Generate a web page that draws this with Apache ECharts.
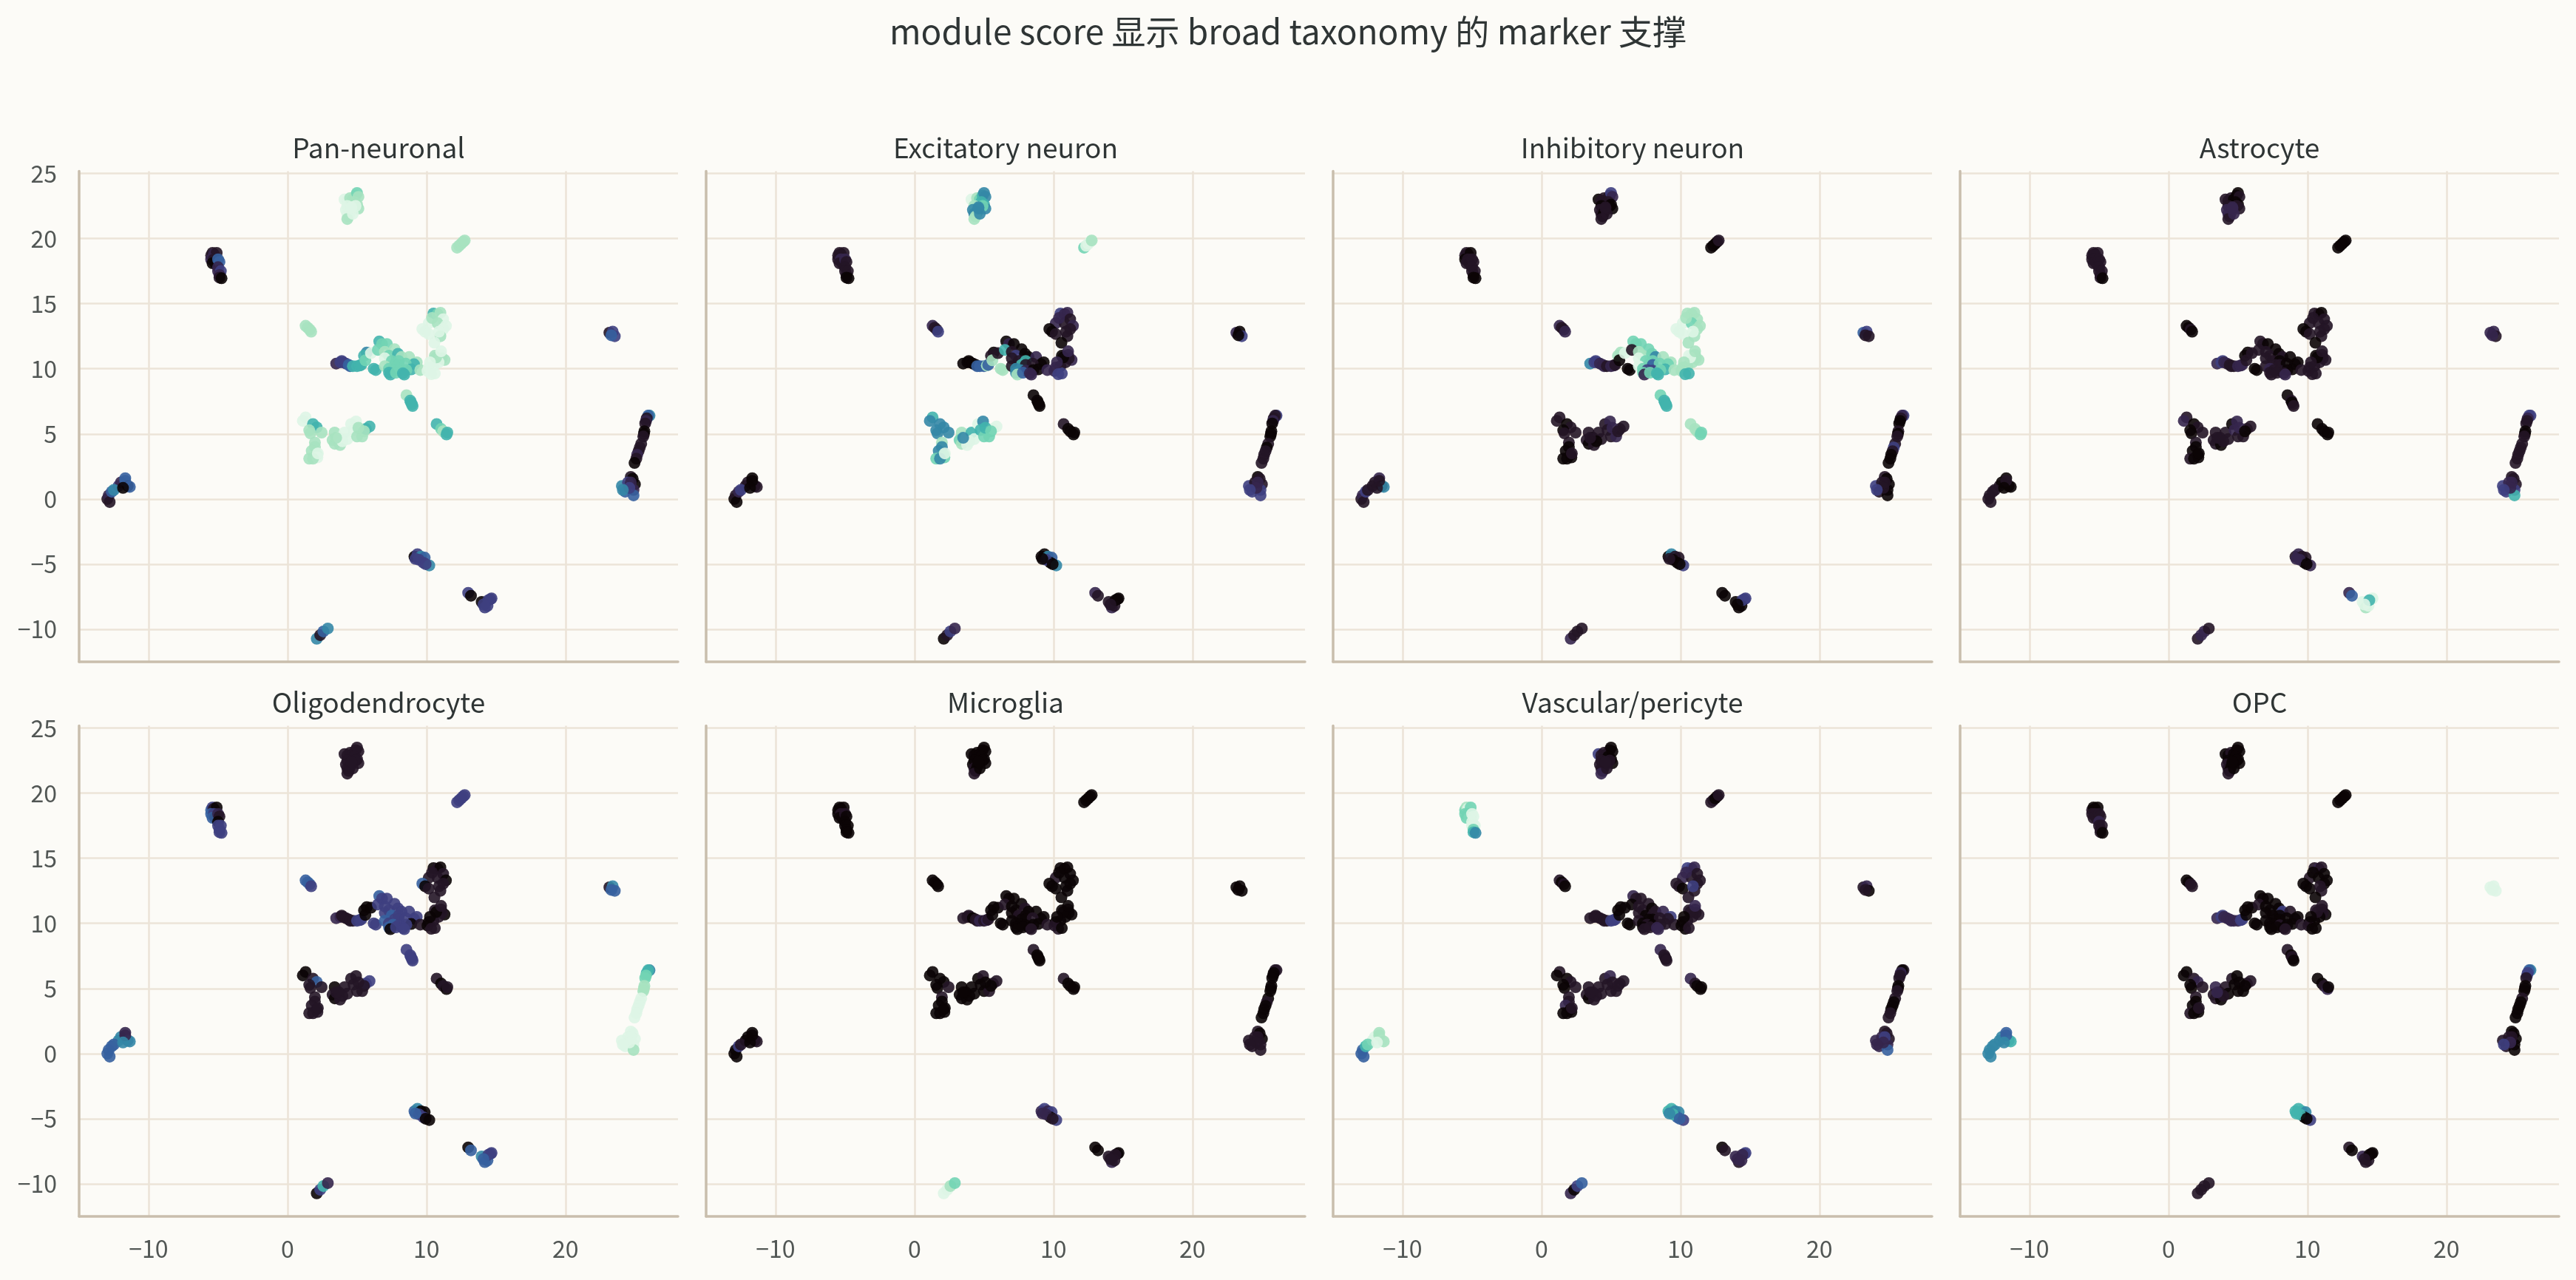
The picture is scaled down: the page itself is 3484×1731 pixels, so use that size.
<!DOCTYPE html>
<html>
<head>
<meta charset="utf-8">
<title>module score</title>
<script src="https://cdn.jsdelivr.net/npm/echarts@6/dist/echarts.min.js"></script>
<style>
html, body { margin: 0; padding: 0; background: #fcfbf7; }
#content { width: 3484px; height: 1731px; }
</style>
</head>
<body>
<div id="content"></div>
<script>
var chartTitle = "module score 显示 broad taxonomy 的 marker 支撑";
var panelNames = ["Pan-neuronal", "Excitatory neuron", "Inhibitory neuron", "Astrocyte",
    "Oligodendrocyte", "Microglia", "Vascular/pericyte", "OPC"];
var xTicks = [-10, 0, 10, 20];
var yTicks = [-10, -5, 0, 5, 10, 15, 20, 25];

// UMAP 坐标，每行一个细胞团，顺序和下面的 score 对应
var umapX = [
    4.1, 4.3, 4.5, 4.7, 4.9, 5.0, 5.1, 4.8, 5.0, 5.1, 4.9, 4.3, 4.2, 4.3, 4.5, 4.4, 4.3, 4.6, 4.7, 4.6,
    12.2, 12.35, 12.5, 12.65, 12.75,
    -5.5, -5.4, -5.3, -5.1, -5.5, -5.3, -5.2, -5.4, -5.0, -4.9, -5.0, -5.0, -4.8, -4.9, -4.9, -4.75,
    1.3, 1.45, 1.6, 1.7,
    3.5, 3.8, 3.9, 4.0, 4.2, 4.4,
    4.5, 4.7, 5.0, 5.2, 5.3,
    5.7, 5.5, 5.6, 6.0,
    6.2, 6.35,
    6.6, 6.8, 7.15, 6.5, 7.7, 7.0, 7.3, 7.95, 7.0, 8.2, 8.75, 7.5, 8.0, 9.3, 9.1, 7.7, 7.0, 8.0, 8.5, 8.9, 9.55, 7.3, 7.6, 8.0, 8.55, 7.3, 7.4, 7.8, 8.3, 8.4,
    10.5, 10.8, 11.0, 11.2, 10.16, 10.8, 11.4, 11.2, 9.7, 9.9, 10.16, 11.0, 10.57, 10.9, 10.4,
    10.6, 11.05, 11.3, 11.1, 10.16, 10.5, 10.07, 10.34, 10.6, 10.87, 10.7, 11.05, 10.25,
    8.56, 8.83, 8.95, 8.88, 9.0,
    10.73, 11.05, 11.2, 11.44, 11.5,
    1.3, 1.1, 1.83, 2.1, 1.56, 1.65, 2.45,
    1.97, 1.97, 1.74, 2.1, 1.56, 2.15, 1.83, 2.18,
    3.39, 3.24, 3.4, 3.78, 3.7, 4.1, 4.3, 4.57, 4.93, 4.75, 5.0, 5.37, 5.64, 5.9, 3.95, 3.5, 5.1, 5.5,
    -12.97, -12.87, -12.8, -12.65, -12.16, -12.0, -11.68, -11.5, -11.35, -11.68, -12.5, -11.84,
    23.16, 23.4, 23.55, 23.3,
    26.05, 25.95, 25.85, 25.8, 25.74, 25.68, 25.65, 25.6, 25.45, 25.35, 25.26, 25.16, 25.1, 24.97,
    24.06, 24.3, 24.7, 24.84, 25.0, 24.9, 24.9, 24.5, 24.7, 24.6, 24.13,
    9.13, 9.35, 9.6, 9.87, 9.77, 10.2, 9.45, 9.94, 9.2,
    13.0, 13.2, 13.97, 14.2, 14.6, 14.68, 14.39, 14.45, 14.1,
    2.1, 2.35, 2.58, 2.9
];
var umapY = [
    23.0, 22.9, 23.1, 23.0, 23.3, 23.5, 23.2, 22.8, 22.6, 22.3, 22.5, 22.5, 22.2, 21.9, 22.0, 21.7, 21.5, 22.3, 21.9, 22.4,
    19.3, 19.45, 19.6, 19.75, 19.85,
    18.7, 18.9, 18.8, 18.9, 18.4, 18.4, 18.1, 18.1, 18.4, 18.2, 17.8, 17.5, 17.5, 17.2, 17.0, 16.95,
    13.3, 13.15, 13.0, 12.85,
    10.4, 10.5, 10.6, 10.5, 10.4, 10.3,
    10.2, 10.2, 10.2, 10.25, 10.3,
    11.25, 11.0, 10.65, 11.2,
    10.0, 9.9,
    12.1, 11.9, 11.9, 11.45, 11.5, 11.3, 11.0, 11.15, 10.8, 10.9, 10.9, 10.6, 10.6, 10.5, 10.35, 10.3, 10.2, 10.3, 10.4, 9.95, 9.9, 10.0, 9.9, 9.85, 9.9, 9.7, 9.55, 9.7, 9.65, 9.55,
    14.24, 14.2, 14.3, 13.8, 13.5, 13.5, 13.3, 13.05, 13.05, 12.85, 12.67, 12.5, 12.0, 12.85, 13.9,
    11.0, 11.06, 10.68, 10.8, 10.1, 10.2, 9.83, 9.58, 9.64, 10.5, 10.87, 11.34, 10.5,
    7.97, 7.56, 7.27, 7.42, 7.14,
    5.76, 5.38, 5.2, 4.96, 5.1,
    6.27, 6.0, 5.76, 5.5, 5.28, 5.04, 5.1,
    4.34, 4.0, 3.7, 3.4, 3.1, 3.2, 3.1, 3.5,
    5.1, 4.53, 4.24, 4.15, 4.7, 5.1, 4.6, 5.76, 5.95, 5.3, 4.8, 4.8, 5.38, 5.57, 4.43, 4.7, 5.47, 5.2,
    0.0, 0.28, -0.23, 0.56, 1.0, 1.27, 1.6, 1.0, 0.93, 1.4, 0.7, 0.85,
    12.77, 12.85, 12.5, 12.57,
    6.4, 6.4, 6.2, 6.0, 5.8, 5.2, 5.0, 4.8, 4.24, 3.95, 3.67, 3.4, 3.1, 2.77,
    1.0, 0.56, 1.7, 1.55, 1.13, 0.7, 0.28, 1.27, 1.27, 0.85, 0.7,
    -4.43, -4.24, -4.43, -4.5, -4.89, -5.1, -4.66, -5.0, -4.6,
    -7.2, -7.43, -7.9, -8.33, -7.7, -7.63, -8.2, -7.77, -8.1,
    -10.73, -10.45, -10.17, -9.94
];

// module score，0 最暗，9 最亮
var panNeuronal = [
    9,9,8,8,8,7,8,8,8,8,9,9,9,9,9,9,8,9,9,9,
    8,8,8,8,8,
    1,1,2,1,2,1,0,0,4,4,2,2,3,2,1,0,
    8,8,8,8,
    2,3,3,3,3,4,
    4,6,6,6,6,
    5,6,7,9,
    6,6,
    6,7,7,7,8,8,7,6,9,8,8,7,7,8,6,7,8,7,7,6,8,7,7,7,7,6,6,7,6,6,
    6,7,8,9,9,8,9,9,9,9,9,8,9,9,8,
    8,9,8,8,9,9,9,9,9,9,8,9,9,
    8,6,6,6,6,
    6,7,8,6,6,
    9,9,6,6,8,8,8,
    8,8,8,8,8,9,8,9,
    8,8,8,8,9,9,9,9,9,9,8,8,6,6,9,8,8,8,
    1,2,1,4,3,2,4,0,4,4,5,0,
    1,3,3,4,
    5,4,1,2,1,0,0,1,1,1,1,2,1,0,
    5,4,1,0,0,2,4,3,2,3,5,
    0,3,5,4,3,5,3,3,3,
    3,0,0,3,3,3,3,3,3,
    5,1,4,5
];
var excitatory = [
    9,9,8,7,6,5,5,6,6,5,7,8,5,5,5,8,8,5,5,5,
    7,9,9,9,8,
    1,1,1,1,1,2,1,1,2,1,1,1,1,1,0,0,
    2,1,1,3,
    0,0,0,0,0,0,
    4,4,4,8,4,
    0,1,8,1,
    8,8,
    0,2,0,6,0,1,3,0,1,0,2,1,6,0,0,6,1,1,1,0,2,5,5,2,0,5,8,4,2,2,
    3,2,2,1,2,1,2,1,0,0,1,1,0,1,2,
    0,1,2,1,2,1,2,3,3,1,0,2,2,
    0,0,0,0,0,
    1,0,0,0,0,
    6,5,5,5,5,5,5,
    8,5,5,7,7,7,5,9,
    8,7,8,9,9,6,9,9,5,6,7,7,9,9,9,5,6,7,
    0,1,0,2,1,1,0,0,1,0,3,0,
    2,0,3,0,
    3,1,1,2,0,0,0,0,1,0,1,1,1,1,
    3,3,0,1,1,3,3,1,2,2,3,
    0,0,5,4,0,5,3,0,0,
    2,1,1,2,0,0,1,0,1,
    0,1,3,2
];
var inhibitory = [
    0,1,1,1,1,3,2,1,0,0,0,0,1,1,0,0,1,1,1,1,
    0,0,0,0,1,
    1,1,1,0,0,1,0,1,1,1,1,1,1,1,0,0,
    2,1,1,2,
    5,3,3,3,2,2,
    2,1,2,2,1,
    8,8,0,9,
    0,0,
    7,7,7,1,7,8,8,7,9,5,8,7,7,8,7,7,9,4,7,6,8,7,3,3,7,7,2,7,6,6,
    8,8,8,8,9,7,8,8,9,9,9,8,8,9,8,
    9,8,8,8,8,8,8,6,6,8,9,8,8,
    7,6,6,6,6,
    8,8,8,7,7,
    1,1,0,1,0,1,1,
    1,0,0,0,0,0,0,1,
    1,1,0,1,0,1,1,1,2,1,1,2,1,1,0,1,2,1,
    1,2,1,3,1,1,2,0,5,1,1,1,
    4,3,1,1,
    3,2,1,0,0,1,0,1,1,3,1,0,0,0,
    3,1,1,0,0,0,0,1,1,1,3,
    0,5,1,1,0,3,0,0,1,
    0,0,0,0,3,3,0,3,0,
    2,1,1,1
];
var astrocyte = [
    1,1,1,0,0,0,1,0,0,1,1,1,2,2,2,2,1,2,2,2,
    0,0,0,0,0,
    1,1,1,1,1,1,1,1,1,1,1,1,1,1,1,0,
    0,0,1,0,
    2,3,3,2,2,1,
    1,1,2,2,2,
    0,0,1,1,
    0,0,
    1,1,0,1,0,1,1,0,1,1,0,1,0,0,0,1,1,1,0,0,1,2,1,1,0,1,1,1,1,2,
    1,1,0,1,1,1,1,1,0,0,1,1,0,1,1,
    0,1,1,1,1,1,1,1,1,1,0,1,1,
    0,1,1,0,1,
    0,0,0,0,0,
    1,2,0,1,0,0,1,
    1,0,0,0,1,0,0,0,
    1,1,1,0,1,1,1,0,2,2,1,1,1,1,1,1,2,0,
    1,1,1,1,1,0,0,0,0,1,1,0,
    2,2,1,2,
    3,3,2,1,1,0,0,1,1,1,1,1,1,1,
    3,3,1,1,1,3,6,2,2,2,3,
    1,2,1,1,0,2,2,0,2,
    2,4,9,8,9,9,9,6,9,
    1,2,2,1
];
var oligodendrocyte = [
    1,1,1,1,1,1,1,1,1,1,1,1,1,1,1,1,1,1,1,1,
    3,3,3,3,3,
    4,3,1,0,4,3,0,4,2,1,0,3,3,3,3,3,
    4,4,4,3,
    2,2,1,1,1,1,
    1,1,3,3,3,
    0,0,0,0,
    3,3,
    4,3,3,3,3,3,3,3,3,3,3,4,3,3,3,3,4,3,3,0,1,3,4,3,3,4,0,3,3,3,
    0,1,0,1,1,1,0,1,4,0,1,1,1,1,1,
    1,1,0,1,0,1,0,1,1,1,0,1,0,
    3,3,3,3,3,
    1,0,1,0,1,
    0,0,1,4,1,1,1,
    1,1,1,1,1,1,1,1,
    0,1,0,1,1,1,1,1,1,1,1,1,3,3,1,1,1,1,
    4,4,4,4,5,5,2,4,5,2,4,5,
    1,5,4,4,
    5,6,6,7,7,8,8,8,9,9,9,9,9,9,
    9,9,9,9,9,9,8,9,9,9,9,
    4,5,0,0,3,0,3,0,4,
    0,4,5,4,3,3,4,3,4,
    0,3,6,2
];
var microglia = [
    0,0,0,0,0,0,0,0,0,0,0,0,0,1,0,0,1,0,0,0,
    0,0,0,0,0,
    0,0,0,0,0,1,0,0,1,0,0,0,0,0,0,0,
    0,0,0,0,
    1,1,1,1,0,1,
    1,2,1,2,1,
    0,0,0,0,
    0,0,
    0,0,0,1,0,0,0,1,0,0,0,1,0,0,0,0,0,0,1,0,1,0,0,0,0,0,0,0,0,1,
    0,0,0,0,1,0,0,0,0,0,0,0,0,0,0,
    0,1,0,0,0,0,1,1,0,0,0,0,0,
    1,0,0,0,0,
    1,0,0,0,0,
    0,0,0,0,0,0,1,
    1,0,0,0,0,0,0,0,
    0,0,0,0,0,0,0,0,1,0,0,1,1,1,0,0,0,0,
    0,0,0,3,0,0,0,0,1,0,1,0,
    0,0,0,0,
    1,1,0,0,0,0,0,0,0,1,0,0,0,0,
    1,1,1,0,0,1,1,1,1,1,1,
    2,3,2,3,0,3,2,1,2,
    0,0,1,2,0,0,1,1,1,
    9,9,8,7
];
var vascular = [
    3,1,1,1,1,0,0,0,0,0,1,1,1,1,1,1,2,1,1,1,
    1,1,0,0,1,
    7,8,9,7,7,7,9,7,9,9,9,9,9,7,6,5,
    1,0,1,0,
    1,1,1,1,1,1,
    1,1,3,3,3,
    0,0,0,0,
    0,0,
    2,1,1,0,1,1,1,0,1,1,2,0,1,3,1,0,1,0,1,1,1,0,1,0,1,0,1,1,2,2,
    3,3,2,1,2,1,1,1,1,1,0,1,1,3,2,
    1,2,1,1,0,1,0,0,1,1,1,2,0,
    2,1,0,1,1,
    2,1,0,0,0,
    1,0,0,1,0,0,1,
    1,1,2,0,0,0,0,1,
    1,1,0,1,1,1,1,1,2,1,1,1,1,1,1,1,1,1,
    4,4,4,6,9,9,8,9,8,8,7,9,
    1,2,0,1,
    1,0,2,1,1,0,0,1,1,0,0,0,1,1,
    2,2,1,1,1,2,4,2,3,2,2,
    6,6,5,5,4,3,6,4,5,
    0,1,2,1,3,3,2,2,2,
    2,0,3,4
];
var opc = [
    0,0,1,0,0,0,0,0,0,0,0,0,1,1,0,0,1,0,0,0,
    0,0,0,0,0,
    1,0,0,0,1,1,1,1,1,1,2,1,1,1,1,0,
    0,0,1,1,
    2,3,3,2,2,2,
    2,2,2,3,3,
    0,0,0,0,
    0,0,
    0,0,0,1,0,0,0,0,0,3,1,0,0,0,0,0,0,0,0,0,1,0,0,1,0,0,0,0,0,1,
    1,2,1,0,1,0,0,0,0,0,0,1,0,1,0,
    1,1,0,1,0,0,1,0,0,0,1,1,0,
    1,0,0,1,0,
    0,0,1,2,0,
    0,0,1,2,0,0,1,
    1,0,0,0,1,0,0,1,
    2,1,1,0,1,1,0,1,0,0,0,0,1,1,1,2,0,0,
    5,5,5,5,5,5,4,5,6,4,5,5,
    9,9,9,9,
    5,4,3,3,1,0,0,0,1,0,0,0,0,0,
    1,1,0,0,0,0,0,1,1,2,3,
    6,6,6,5,0,3,6,0,6,
    1,0,2,1,0,0,1,0,1,
    1,1,1,1
];
var scores = [panNeuronal, excitatory, inhibitory, astrocyte, oligodendrocyte, microglia, vascular, opc];

// mako 色带
var makoColors = ["#0b0405", "#231526", "#35264c", "#3e3f80", "#36609f", "#3487a6", "#42b4ad", "#72d4b4", "#a7e2c0", "#def5e5"];

var fontName = '"Noto Sans CJK SC", "Noto Sans", sans-serif';
var panelLeft = [107, 955, 1803, 2651];
var panelTop = [231.5, 981.5];
var panelW = 810;
var panelH = 663.5;

function minusSign(v) {
    return String(v).replace("-", "\u2212");
}

var grids = [], xAxes = [], yAxes = [], titles = [], series = [];

titles.push({
    text: chartTitle,
    left: 1742,
    top: 20,
    padding: 0,
    textAlign: "center",
    textStyle: { fontFamily: fontName, fontSize: 46, fontWeight: "normal", color: "#2f3535" }
});

for (let i = 0; i < panelNames.length; i++) {
    var col = i % 4;
    var row = Math.floor(i / 4);

    grids.push({ left: panelLeft[col], top: panelTop[row], width: panelW, height: panelH });
    titles.push({
        text: panelNames[i],
        left: panelLeft[col] + panelW / 2,
        top: panelTop[row] - 50,
        padding: 0,
        textAlign: "center",
        textStyle: { fontFamily: fontName, fontSize: 37, fontWeight: "normal", color: "#2f3535" }
    });
    xAxes.push({
        type: "value",
        gridIndex: i,
        min: -15,
        max: 28.1,
        axisLine: { show: true, onZero: false, lineStyle: { color: "#c9bead", width: 3.5 } },
        axisTick: { show: false, customValues: xTicks },
        axisLabel: {
            show: row == 1,
            customValues: xTicks,
            margin: 28,
            fontFamily: fontName,
            fontSize: 32,
            color: "#515654",
            formatter: minusSign
        },
        splitLine: { show: true, lineStyle: { color: "#ece4d8", width: 2.6 } }
    });
    yAxes.push({
        type: "value",
        gridIndex: i,
        min: -12.5,
        max: 25.17,
        axisLine: { show: true, onZero: false, lineStyle: { color: "#c9bead", width: 3.5 } },
        axisTick: { show: false, customValues: yTicks },
        axisLabel: {
            show: col == 0,
            customValues: yTicks,
            margin: 30,
            fontFamily: fontName,
            fontSize: 32,
            color: "#515654",
            formatter: minusSign
        },
        splitLine: { show: true, lineStyle: { color: "#ece4d8", width: 2.6 } }
    });

    var points = [];
    for (let j = 0; j < umapX.length; j++) {
        points.push([umapX[j], umapY[j], scores[i][j]]);
    }
    series.push({
        type: "scatter",
        name: panelNames[i],
        xAxisIndex: i,
        yAxisIndex: i,
        data: points,
        symbolSize: 16,
        itemStyle: { opacity: 0.9 },
        silent: true
    });
}

var myChart = echarts.init(document.getElementById("content"));
myChart.setOption({
    backgroundColor: "#fcfbf7",
    animation: false,
    title: titles,
    grid: grids,
    xAxis: xAxes,
    yAxis: yAxes,
    visualMap: {
        type: "continuous",
        show: false,
        dimension: 2,
        min: 0,
        max: 9,
        seriesIndex: [0, 1, 2, 3, 4, 5, 6, 7],
        inRange: { color: makoColors }
    },
    series: series
});
</script>
</body>
</html>
